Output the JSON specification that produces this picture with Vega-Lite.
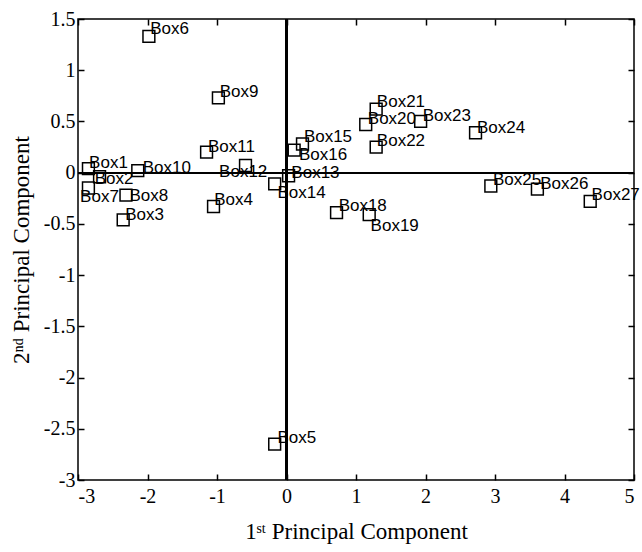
{
  "$schema": "https://vega.github.io/schema/vega-lite/v6.json",
  "autosize": "none",
  "width": 556,
  "height": 461,
  "padding": {"left": 78, "top": 19, "right": 8, "bottom": 72},
  "background": "white",
  "config": {
    "view": {"stroke": "black", "strokeWidth": 1.5},
    "axis": {
      "grid": false,
      "domain": false,
      "tickColor": "black",
      "tickSize": -6,
      "tickWidth": 1.5,
      "labelFont": "Liberation Serif",
      "labelFontSize": 20,
      "labelColor": "black",
      "titleFont": "Liberation Serif",
      "titleFontSize": 23,
      "titleFontWeight": "normal",
      "titleColor": "black"
    }
  },
  "data": {
    "values": [
      {"name": "Box1", "x": -2.85, "y": 0.04, "lx": -2.84, "ly": 0.09},
      {"name": "Box2", "x": -2.69, "y": -0.04, "lx": -2.76, "ly": -0.06},
      {"name": "Box3", "x": -2.35, "y": -0.46, "lx": -2.32, "ly": -0.41},
      {"name": "Box4", "x": -1.05, "y": -0.33, "lx": -1.04, "ly": -0.27},
      {"name": "Box5", "x": -0.17, "y": -2.65, "lx": -0.13, "ly": -2.59},
      {"name": "Box6", "x": -1.98, "y": 1.33, "lx": -1.96, "ly": 1.4},
      {"name": "Box7", "x": -2.85, "y": -0.15, "lx": -2.97, "ly": -0.24},
      {"name": "Box8", "x": -2.31, "y": -0.22, "lx": -2.26, "ly": -0.23},
      {"name": "Box9", "x": -0.98, "y": 0.73, "lx": -0.96, "ly": 0.79},
      {"name": "Box10", "x": -2.14, "y": 0.02, "lx": -2.07, "ly": 0.05},
      {"name": "Box11", "x": -1.15, "y": 0.2, "lx": -1.13, "ly": 0.25},
      {"name": "Box12", "x": -0.59, "y": 0.07, "lx": -0.97, "ly": 0.01},
      {"name": "Box13", "x": 0.03, "y": -0.03, "lx": 0.07, "ly": 0.0},
      {"name": "Box14", "x": -0.17, "y": -0.11, "lx": -0.13, "ly": -0.2},
      {"name": "Box15", "x": 0.23, "y": 0.28, "lx": 0.25, "ly": 0.35},
      {"name": "Box16", "x": 0.11, "y": 0.22, "lx": 0.18, "ly": 0.17},
      {"name": "Box18", "x": 0.72, "y": -0.39, "lx": 0.75, "ly": -0.33},
      {"name": "Box19", "x": 1.19, "y": -0.41, "lx": 1.21, "ly": -0.52},
      {"name": "Box20", "x": 1.14, "y": 0.47, "lx": 1.17, "ly": 0.52},
      {"name": "Box21", "x": 1.29, "y": 0.62, "lx": 1.3, "ly": 0.69},
      {"name": "Box22", "x": 1.29, "y": 0.25, "lx": 1.3, "ly": 0.31},
      {"name": "Box23", "x": 1.93, "y": 0.5, "lx": 1.96, "ly": 0.55},
      {"name": "Box24", "x": 2.72, "y": 0.39, "lx": 2.74, "ly": 0.44},
      {"name": "Box25", "x": 2.94, "y": -0.13, "lx": 2.97, "ly": -0.07},
      {"name": "Box26", "x": 3.61, "y": -0.16, "lx": 3.65, "ly": -0.11},
      {"name": "Box27", "x": 4.37, "y": -0.28, "lx": 4.39, "ly": -0.22}
    ]
  },
  "resolve": {"axis": {"x": "independent", "y": "independent"}},
  "layer": [
    {
      "mark": {"type": "rule", "color": "black", "strokeWidth": 1.5},
      "encoding": {
        "x": {"datum": 0, "type": "quantitative", "scale": {"domain": [-3, 5], "nice": false, "zero": false},
          "axis": {"orient": "bottom", "values": [-3, -2, -1, 0, 1, 2, 3, 4, 5], "labelExpr": "datum.value + ''", "labelPadding": 12, "title": "1ˢᵗ Principal Component", "titlePadding": 14}}
      }
    },
    {
      "mark": {"type": "rule", "color": "black", "strokeWidth": 1.5},
      "encoding": {
        "y": {"datum": 0, "type": "quantitative", "scale": {"domain": [-3, 1.5], "nice": false, "zero": false},
          "axis": {"orient": "left", "values": [-3, -2.5, -2, -1.5, -1, -0.5, 0, 0.5, 1, 1.5], "labelExpr": "datum.value + ''", "labelPadding": 9, "title": "2ⁿᵈ Principal Component", "titlePadding": 10}}
      }
    },
    {
      "mark": {"type": "point", "shape": "square", "filled": false, "stroke": "black", "strokeWidth": 1.5, "size": 140, "opacity": 1},
      "encoding": {
        "x": {"field": "x", "type": "quantitative", "axis": {"orient": "top", "values": [-3, -2, -1, 0, 1, 2, 3, 4, 5], "labels": false, "title": null}},
        "y": {"field": "y", "type": "quantitative", "axis": {"orient": "right", "values": [-3, -2.5, -2, -1.5, -1, -0.5, 0, 0.5, 1, 1.5], "labels": false, "title": null}}
      }
    },
    {
      "mark": {"type": "text", "align": "left", "baseline": "middle", "font": "Liberation Sans", "fontSize": 17, "color": "black"},
      "encoding": {
        "x": {"field": "lx", "type": "quantitative", "axis": null},
        "y": {"field": "ly", "type": "quantitative", "axis": null},
        "text": {"field": "name"}
      }
    }
  ]
}
